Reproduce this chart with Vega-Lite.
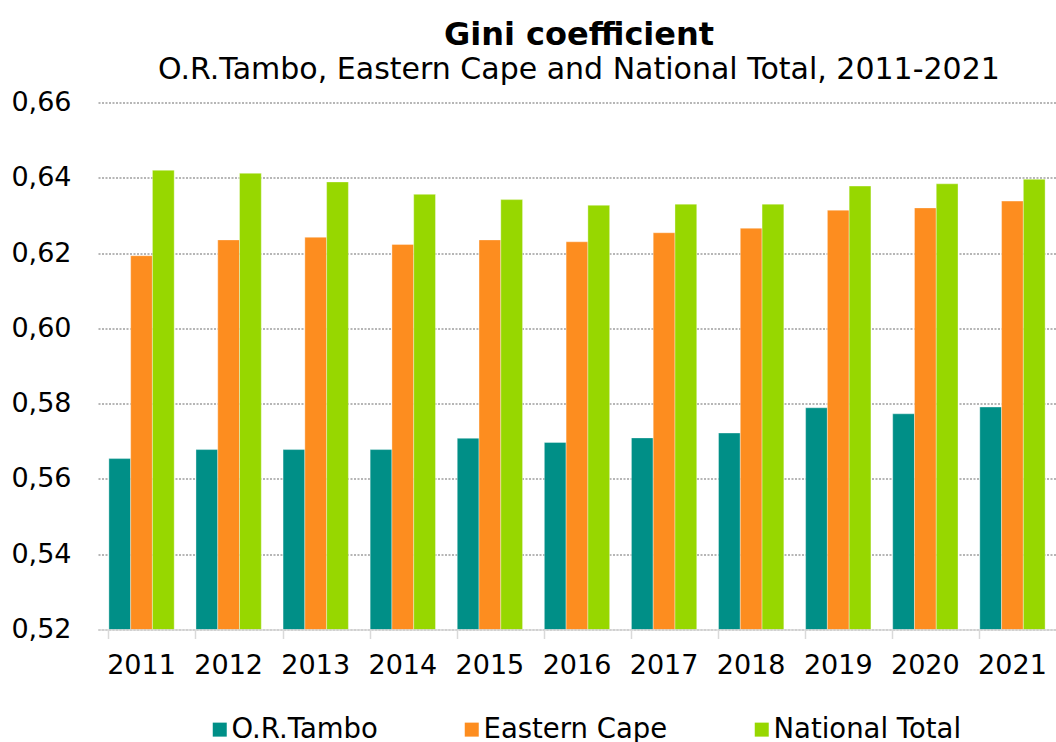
{
  "$schema": "https://vega.github.io/schema/vega-lite/v6.json",
  "autosize": {"type": "none"},
  "width": 958,
  "height": 527,
  "padding": {"left": 98, "top": 102.5, "right": 0, "bottom": 112.5},
  "background": "white",
  "title": {
    "text": "Gini coefficient",
    "subtitle": "O.R.Tambo, Eastern Cape and National Total, 2011-2021",
    "anchor": "middle",
    "frame": "group",
    "font": "DejaVu Sans",
    "fontSize": 32,
    "fontWeight": "bold",
    "color": "#000000",
    "subtitleFont": "DejaVu Sans",
    "subtitleFontSize": 30,
    "subtitleColor": "#000000",
    "subtitlePadding": 3,
    "offset": 3,
    "dx": 2
  },
  "data": {
    "values": [
      {"year": "2011", "series": "O.R.Tambo", "value": 0.5654},
      {"year": "2011", "series": "Eastern Cape", "value": 0.6193},
      {"year": "2011", "series": "National Total", "value": 0.6420},
      {"year": "2012", "series": "O.R.Tambo", "value": 0.5678},
      {"year": "2012", "series": "Eastern Cape", "value": 0.6235},
      {"year": "2012", "series": "National Total", "value": 0.6412},
      {"year": "2013", "series": "O.R.Tambo", "value": 0.5678},
      {"year": "2013", "series": "Eastern Cape", "value": 0.6242},
      {"year": "2013", "series": "National Total", "value": 0.6389},
      {"year": "2014", "series": "O.R.Tambo", "value": 0.5678},
      {"year": "2014", "series": "Eastern Cape", "value": 0.6223},
      {"year": "2014", "series": "National Total", "value": 0.6356},
      {"year": "2015", "series": "O.R.Tambo", "value": 0.5708},
      {"year": "2015", "series": "Eastern Cape", "value": 0.6235},
      {"year": "2015", "series": "National Total", "value": 0.6342},
      {"year": "2016", "series": "O.R.Tambo", "value": 0.5697},
      {"year": "2016", "series": "Eastern Cape", "value": 0.6230},
      {"year": "2016", "series": "National Total", "value": 0.6327},
      {"year": "2017", "series": "O.R.Tambo", "value": 0.5709},
      {"year": "2017", "series": "Eastern Cape", "value": 0.6254},
      {"year": "2017", "series": "National Total", "value": 0.6330},
      {"year": "2018", "series": "O.R.Tambo", "value": 0.5722},
      {"year": "2018", "series": "Eastern Cape", "value": 0.6266},
      {"year": "2018", "series": "National Total", "value": 0.6330},
      {"year": "2019", "series": "O.R.Tambo", "value": 0.5789},
      {"year": "2019", "series": "Eastern Cape", "value": 0.6314},
      {"year": "2019", "series": "National Total", "value": 0.6378},
      {"year": "2020", "series": "O.R.Tambo", "value": 0.5773},
      {"year": "2020", "series": "Eastern Cape", "value": 0.6320},
      {"year": "2020", "series": "National Total", "value": 0.6384},
      {"year": "2021", "series": "O.R.Tambo", "value": 0.5791},
      {"year": "2021", "series": "Eastern Cape", "value": 0.6338},
      {"year": "2021", "series": "National Total", "value": 0.6396}
    ]
  },
  "mark": {"type": "bar", "clip": true, "stroke": "#ffffff", "strokeWidth": 0.6, "strokeOpacity": 0.6},
  "encoding": {
    "x": {
      "field": "year",
      "type": "nominal",
      "scale": {"paddingInner": 0.25, "paddingOuter": 0.125},
      "axis": {
        "title": null,
        "labelAngle": 0,
        "labelFont": "DejaVu Sans",
        "labelFontSize": 27,
        "labelColor": "#000000",
        "labelBaseline": "alphabetic",
        "labelPadding": 35,
        "bandPosition": 0,
        "ticks": true,
        "tickSize": 9,
        "tickColor": "#d9d9d9",
        "tickWidth": 1.5,
        "domainColor": "#d9d9d9",
        "domainWidth": 1.5,
        "grid": false,
        "zindex": 1
      }
    },
    "xOffset": {
      "field": "series",
      "type": "nominal",
      "sort": ["O.R.Tambo", "Eastern Cape", "National Total"],
      "scale": {"paddingInner": 0, "paddingOuter": 0}
    },
    "y": {
      "field": "value",
      "type": "quantitative",
      "scale": {"domain": [0.52, 0.66], "zero": false, "nice": false},
      "axis": {
        "title": null,
        "values": [0.52, 0.54, 0.56, 0.58, 0.60, 0.62, 0.64, 0.66],
        "labelExpr": "replace(format(datum.value, '.2f'), '.', ',')",
        "labelFont": "DejaVu Sans",
        "labelFontSize": 27,
        "labelColor": "#000000",
        "labelPadding": 27,
        "ticks": false,
        "domain": false,
        "grid": true,
        "gridColor": "#9e9e9e",
        "gridWidth": 1.3,
        "gridDash": [2, 1.5]
      }
    },
    "color": {
      "field": "series",
      "type": "nominal",
      "sort": ["O.R.Tambo", "Eastern Cape", "National Total"],
      "scale": {
        "domain": ["O.R.Tambo", "Eastern Cape", "National Total"],
        "range": ["#008F87", "#FD8D1F", "#97D700"]
      },
      "legend": {
        "title": null,
        "orient": "none",
        "legendX": 108,
        "legendY": 613,
        "direction": "horizontal",
        "symbolType": "square",
        "symbolSize": 196,
        "symbolStrokeWidth": 0,
        "labelFont": "DejaVu Sans",
        "labelFontSize": 27.5,
        "labelColor": "#000000",
        "labelOffset": -2,
        "columnPadding": 80,
        "labelLimit": 400
      }
    }
  },
  "config": {
    "view": {"stroke": null}
  }
}
